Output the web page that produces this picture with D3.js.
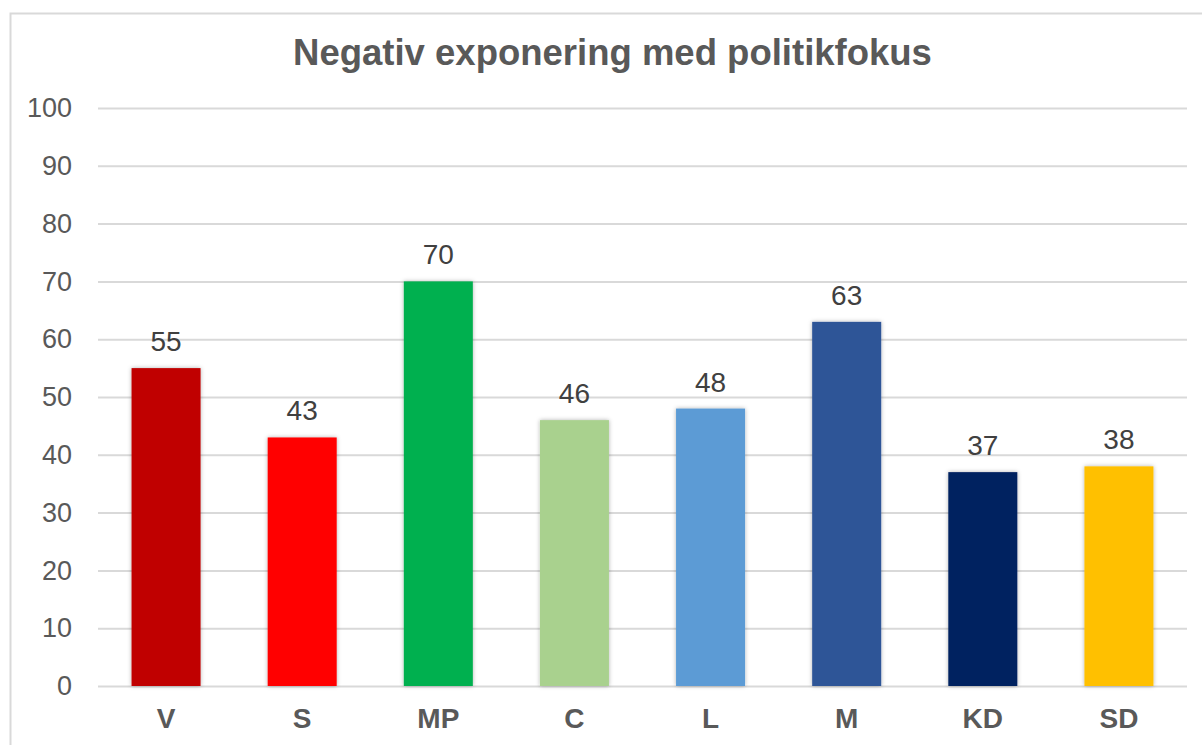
<!DOCTYPE html>
<html><head><meta charset="utf-8">
<script src="https://cdn.jsdelivr.net/npm/d3@7"></script>
<style>body{margin:0;background:#fff;} svg{display:block;font-family:"Liberation Sans",Arial,sans-serif;}</style>
</head><body>
<svg id="c" width="1202" height="745"></svg>
<script>
const categories = ["V","S","MP","C","L","M","KD","SD"];
const values = [55,43,70,46,48,63,37,38];
const colors = ["#C00000","#FF0000","#00B050","#A9D18E","#5B9BD5","#2F5597","#002060","#FFC000"];
const yTicks = [0,10,20,30,40,50,60,70,80,90,100];
const title = "Negativ exponering med politikfokus";

const svg = d3.select("#c");
const defs = svg.append("defs");
const f = defs.append("filter").attr("id","sh").attr("x","-20%").attr("y","-20%").attr("width","140%").attr("height","140%");
f.append("feDropShadow").attr("dx",0).attr("dy",0).attr("stdDeviation",2.2).attr("flood-color","#000").attr("flood-opacity",0.3);

svg.append("rect").attr("x",10.5).attr("y",13.5).attr("width",1200).attr("height",800)
  .attr("fill","#fff").attr("stroke","#d9d9d9").attr("stroke-width",2);

const pLeft = 98, pRight = 1187, pTop = 108, pBottom = 686;
const x = d3.scaleBand().domain(categories).range([pLeft,pRight]).paddingInner(0.493).paddingOuter(0.2465);
const y = d3.scaleLinear().domain([0,100]).range([pBottom,pTop]);

svg.append("text").attr("x",612.5).attr("y",65).attr("text-anchor","middle")
  .attr("font-size",36.5).attr("font-weight","bold").attr("fill","#595959").text(title);

const yAxis = d3.axisLeft(y).tickValues(yTicks).tickSize(-(pRight-pLeft)).tickPadding(26);
const ga = svg.append("g").attr("transform",`translate(${pLeft},0)`).call(yAxis);
ga.select(".domain").remove();
ga.selectAll(".tick line").attr("stroke","#d9d9d9").attr("stroke-width",2);
ga.selectAll(".tick text").attr("font-size",27).attr("fill","#595959").attr("font-family","Liberation Sans, Arial, sans-serif");

svg.append("g").selectAll("rect").data(values).join("rect")
  .attr("x",(d,i)=>x(categories[i])).attr("width",x.bandwidth())
  .attr("y",d=>y(d)).attr("height",d=>y(0)-y(d))
  .attr("fill",(d,i)=>colors[i]).attr("filter","url(#sh)");

svg.append("g").selectAll("text").data(values).join("text")
  .attr("x",(d,i)=>x(categories[i])+x.bandwidth()/2).attr("y",d=>y(d)-17)
  .attr("text-anchor","middle").attr("font-size",28).attr("fill","#404040").text(d=>d);

const xAxis = d3.axisBottom(x).tickSize(0).tickPadding(0);
const gx = svg.append("g").attr("transform",`translate(0,${pBottom})`).call(xAxis);
gx.select(".domain").remove();
gx.selectAll(".tick text").attr("dy",null).attr("y",42).attr("font-size",28).attr("font-weight","bold").attr("fill","#595959").attr("font-family","Liberation Sans, Arial, sans-serif");
</script>
</body></html>
